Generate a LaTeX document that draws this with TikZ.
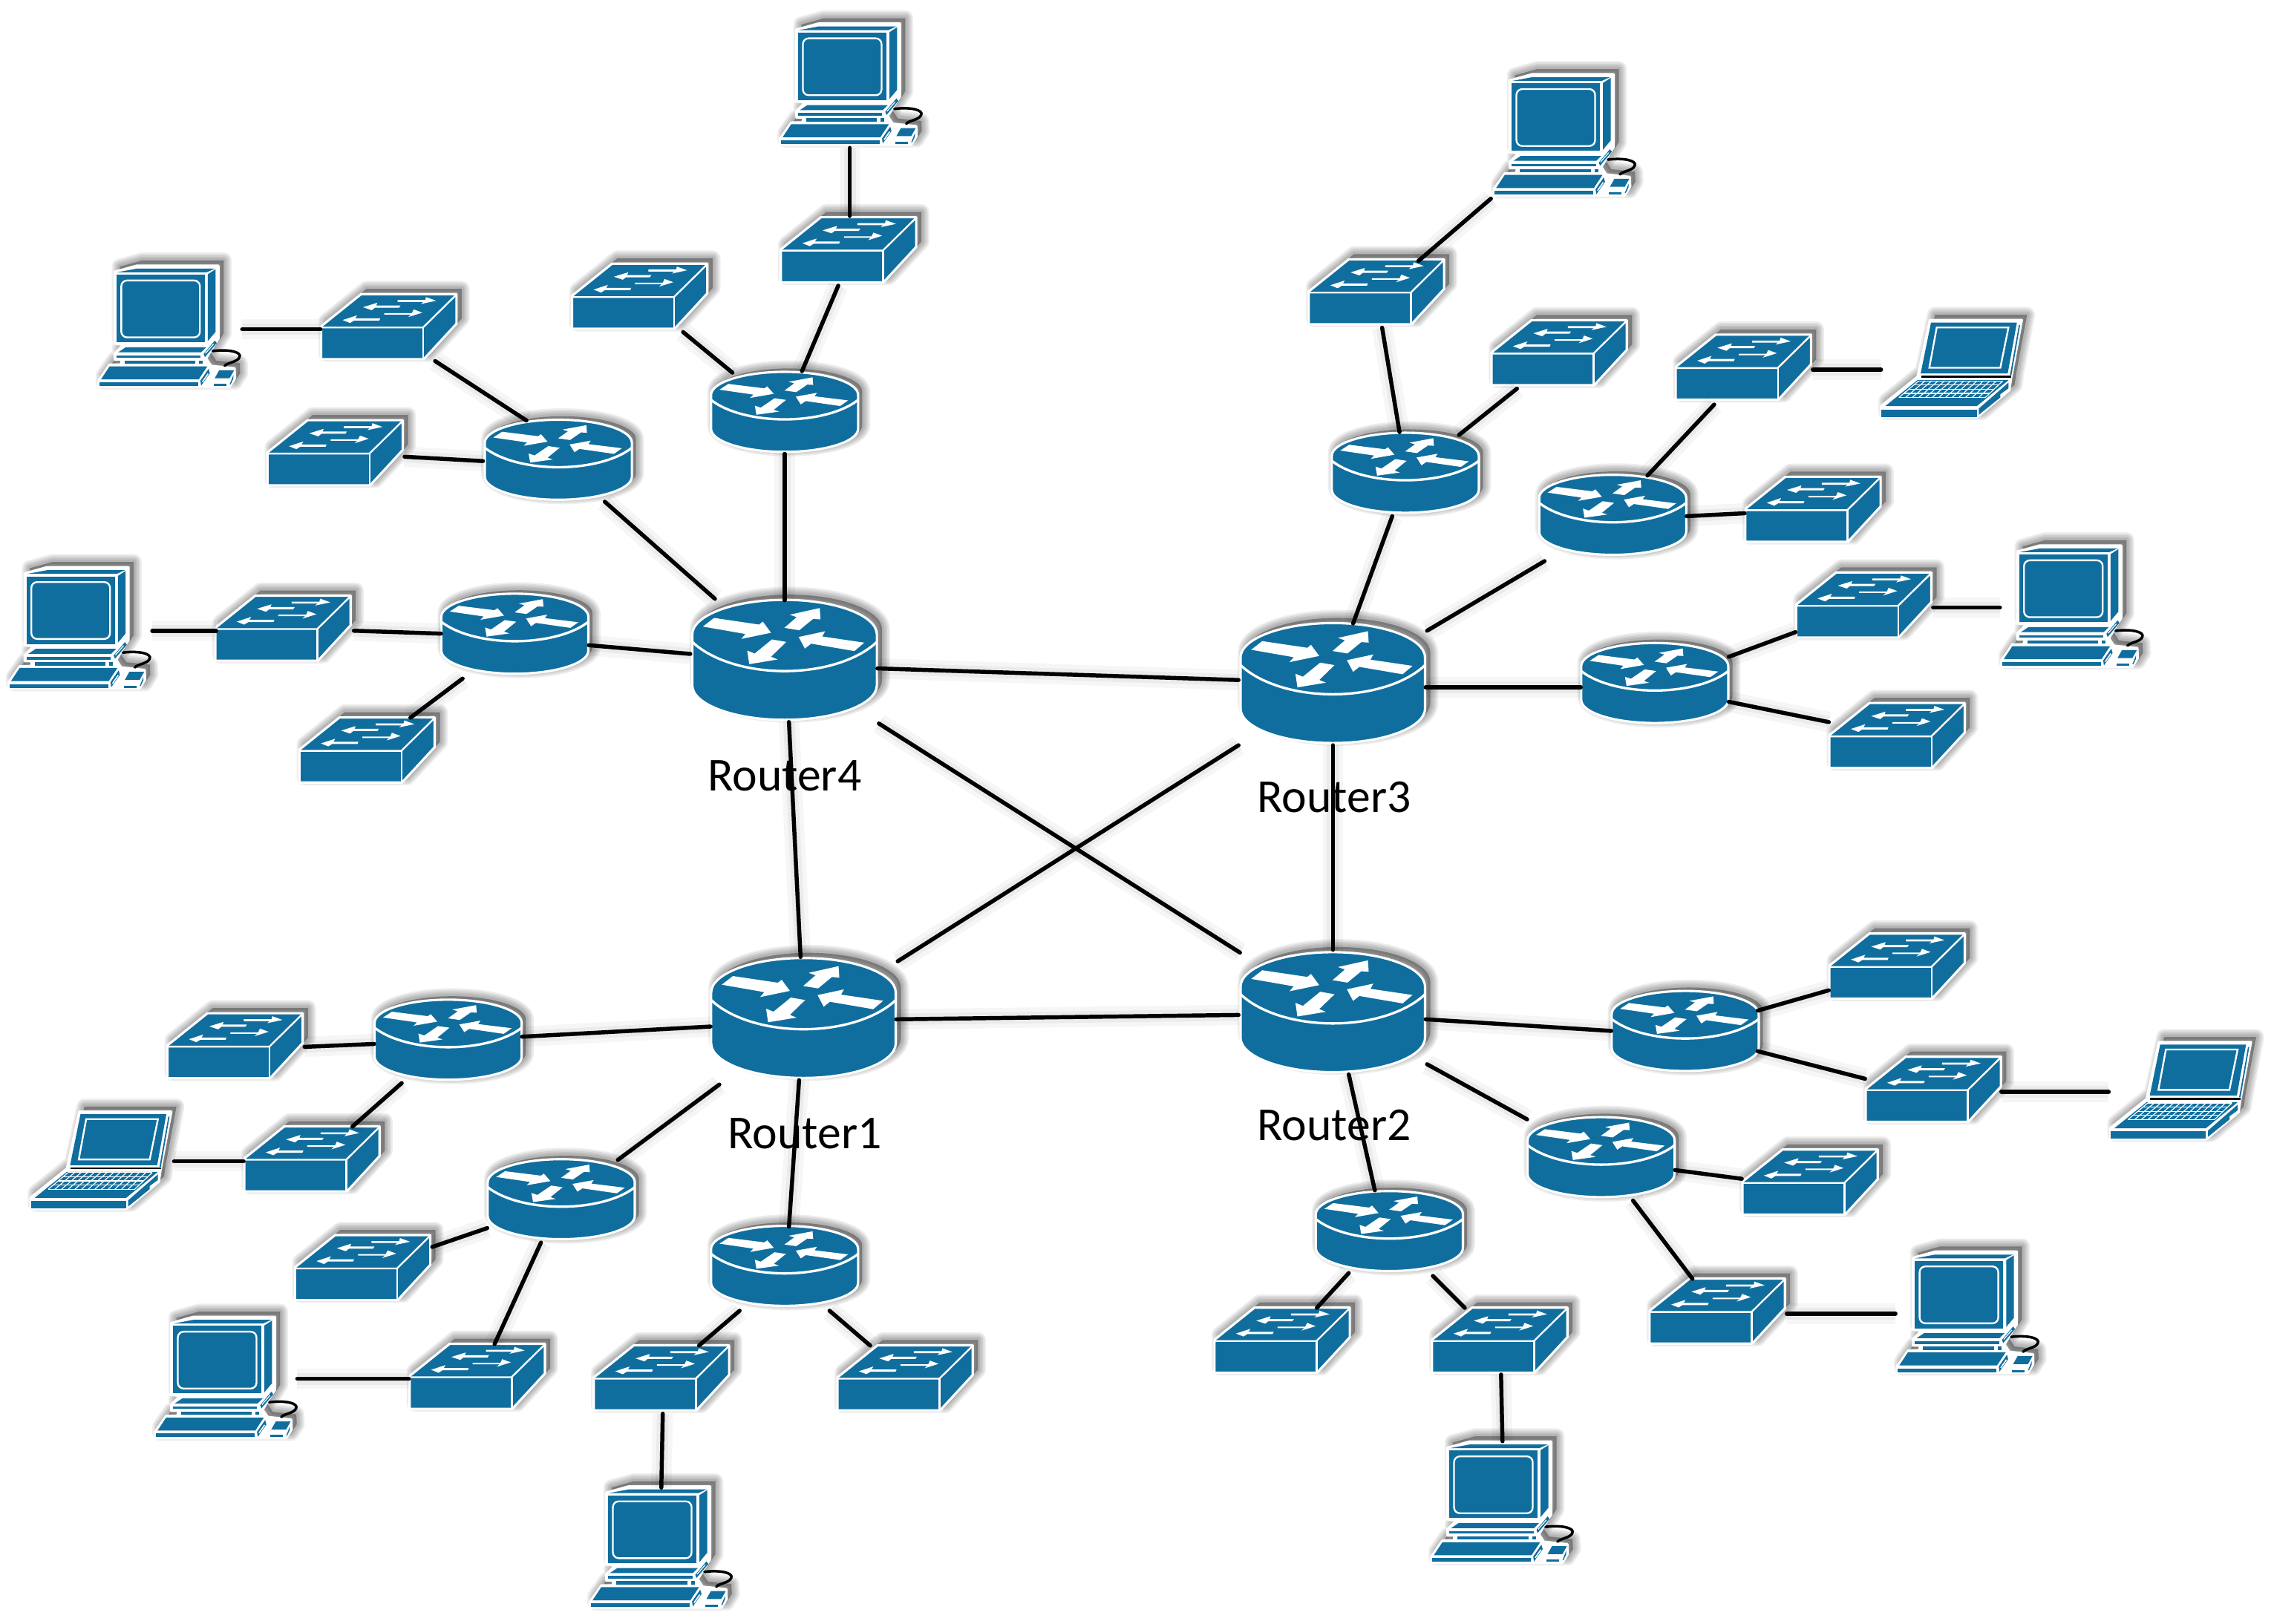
\documentclass[tikz,border=0pt]{standalone}
\usepackage{fontspec}
\setmainfont{Carlito}
\definecolor{ciscoblue}{HTML}{106E9E}
% local outlines, in the coordinates of a 3x crop of the reference
\newcommand\softshadow[1]{%
  \begin{scope}[shift={(21,-21)}]
    \foreach \w in {5.5pt,4.5pt,3.5pt,2.5pt,1.5pt}{\draw[line width=\w,draw=black,draw opacity=.065,line join=round] #1;}
    \fill[black,fill opacity=.32] #1;
  \end{scope}}
\newcommand\routersil{(-373,0) .. controls (-373,-77) and (-206,-140) .. (0,-140) .. controls (206,-140) and (373,-77) .. (373,0) -- (373,205) .. controls (373,282) and (206,345) .. (0,345) .. controls (-206,345) and (-373,282) .. (-373,205) -- cycle}
\newcommand\switchsil{(63,950) -- (225,820) -- (610,820) -- (610,940) -- (478,1083) -- (63,1083) -- cycle}
\newcommand\pcsil{(125,60) -- (215,35) -- (545,35) -- (545,330) -- (495,410) -- (515,440) -- (610,450) -- (612,490) -- (590,525) -- (60,525) -- (60,500) -- (105,435) -- (150,435) -- (155,415) -- (125,415) -- (125,390) -- (160,355) -- (125,350) -- cycle}
\newcommand\lapsil{(240,92) -- (612,92) -- (568,330) -- (562,375) -- (440,478) -- (430,485) -- (43,485) -- (43,440) -- (190,322) -- cycle}
\tikzset{
  iconedge/.style={draw=white,line width=.8pt,line join=round},
  iconfill/.style={fill=ciscoblue},
  wh/.style={fill=white},
  swbox/.style={minimum width=47pt,minimum height=23pt,inner sep=0pt},
  bigbox/.style={minimum width=64pt,minimum height=42pt,inner sep=0pt},
  smallbox/.style={minimum width=51pt,minimum height=28pt,inner sep=0pt},
  pcbox/.style={minimum width=49pt,minimum height=42pt,inner sep=0pt},
  lapbox/.style={minimum width=49pt,minimum height=34pt,inner sep=0pt},
  wire/.style={line width=1.4pt,line cap=round,draw=black,
    preaction={draw=black,draw opacity=.035,line width=7pt},
    preaction={draw=black,draw opacity=.045,line width=4pt}},
  rlabel/.style={font=\fontsize{16.3}{18}\selectfont,inner sep=0pt,text=black},
  pics/routericon/.style={code={
    \begin{scope}[scale=.1706,shift={(0,-102)}]
      \softshadow{\routersil}
      \filldraw[iconfill,iconedge] \routersil;
      \draw[draw=white,line width=.85pt] (-373,30) .. controls (-300,100) and (-160,148) .. (0,148) .. controls (160,148) and (300,100) .. (373,30);
      \fill[wh] (-330,-32) -- (-285,-67) -- (-103,-40) -- (-88,-52) -- (-55,-7) -- (-175,18) -- (-158,-2) -- cycle;
      \fill[wh] (-1,-27) -- (59,-17) -- (115,-63) -- (145,-61) -- (142,-107) -- (21,-80) -- (49,-70) -- cycle;
      \fill[wh] (322,33) -- (282,67) -- (107,37) -- (82,57) -- (57,10) -- (164,-13) -- (152,8) -- cycle;
      \fill[wh] (-51,20) -- (7,30) -- (-55,90) -- (-28,101) -- (-143,120) -- (-151,65) -- (-121,77) -- cycle;
    \end{scope}}},
  pics/switchicon/.style={code={
    \begin{scope}[scale=.1706,shift={(-336,-950)}]
      \softshadow{\switchsil}
      \filldraw[iconfill,iconedge] \switchsil;
      \draw[draw=white,line width=.6pt] (63,955) -- (475,955) -- (610,822);
      \draw[draw=white,line width=.6pt] (476,955) -- (476,1083);
      \begin{scope}[shift={(336,950)}]
        \fill[wh] (36,-106) -- (148,-106) -- (151,-118) -- (192,-103) -- (131,-90) -- (140,-98) -- (36,-98) -- cycle;
        \fill[wh] (-104,-77) -- (-46,-95) -- (-50,-84) -- (48,-84) -- (42,-75) -- (-55,-75) -- (-68,-65) -- cycle;
        \fill[wh] (-18,-53) -- (94,-53) -- (101,-68) -- (136,-55) -- (79,-37) -- (90,-47) -- (-18,-47) -- cycle;
        \fill[wh] (-186,-25) -- (-128,-44) -- (-135,-32) -- (-34,-32) -- (-38,-23) -- (-140,-23) -- (-156,-13) -- cycle;
      \end{scope}
    \end{scope}}},
  pics/pcicon/.style={code={
    \begin{scope}[scale=.1706,shift={(-336,-280)}]
      \softshadow{\pcsil}
      \filldraw[fill=white,iconedge] \pcsil;
      \fill[iconfill] (133,72) rectangle (490,345);
      \draw[draw=white,line width=.6pt,rounded corners=2pt] (152,95) rectangle (470,325);
      \fill[iconfill] (135,62) -- (215,47) -- (530,47) -- (497,62) -- cycle;
      \fill[iconfill] (502,70) -- (533,50) -- (533,303) -- (502,340) -- cycle;
      \fill[iconfill] (140,385) -- (170,365) -- (495,365) -- (475,385) -- cycle;
      \fill[iconfill] (132,397) rectangle (473,408);
      \fill[iconfill] (485,392) -- (530,338) -- (538,348) -- (490,405) -- cycle;
      \draw[draw=white,line width=.3pt] (492,390) -- (525,352);
      \fill[iconfill] (165,418) rectangle (452,432);
      \fill[iconfill] (467,418) rectangle (482,432);
      \fill[iconfill] (70,495) -- (105,442) -- (500,442) -- (465,495) -- cycle;
      \fill[iconfill] (63,507) rectangle (462,522);
      \fill[iconfill] (472,500) -- (505,452) -- (510,470) -- (475,520) -- cycle;
      \draw[draw=white,line width=.4pt] (480,505) -- (503,472);
      \fill[iconfill] (530,490) -- (548,458) -- (608,458) -- (590,490) -- cycle;
      \fill[iconfill] (525,513) rectangle (577,522);
      \fill[iconfill] (590,515) -- (605,478) -- (605,492) -- (594,515) -- cycle;
      \draw[black,line width=.9pt,line cap=round] (522,380) .. controls (590,372) and (640,385) .. (630,405) .. controls (622,425) and (585,425) .. (570,440);
    \end{scope}}},
  pics/laptopicon/.style={code={
    \begin{scope}[scale=.1706,shift={(-330,-287)}]
      \softshadow{\lapsil}
      \filldraw[fill=white,iconedge] \lapsil;
      \fill[iconfill] (245,102) -- (592,102) -- (555,308) -- (203,308) -- cycle;
      \fill[iconfill] (600,112) -- (605,112) -- (570,315) -- (564,315) -- cycle;
      \draw[draw=white,line width=.6pt] (268,122) -- (558,122) -- (525,285) -- (238,285) -- cycle;
      \draw[black,line width=.7pt] (205,321) -- (570,321);
      \fill[iconfill] (60,440) -- (190,335) -- (558,335) -- (430,440) -- cycle;
      \fill[iconfill] (45,453) rectangle (430,483);
      \fill[iconfill] (438,450) -- (558,345) -- (558,368) -- (525,392) -- (525,405) -- (438,475) -- cycle;
      \foreach \t in {0,.25,.5,.75,1}{\draw[draw=white,line width=.3pt] ({195-80*\t},{338+67*\t}) -- ({535-70*\t},{338+67*\t});}
      \foreach \i in {0,...,13}{\draw[draw=white,line width=.3pt] ({195+\i*26.15},338) -- ({115+\i*26.9},405);}
    \end{scope}}}
}
\newcommand\wire[4]{\draw[wire] ([shift={(#2)}]#1.center) -- ([shift={(#4)}]#3.center);}
\begin{document}
\begin{tikzpicture}[x=.5pt,y=-.5pt]
\useasboundingbox (0,0) rectangle (1568,1120);
\fill[white] (0,0) rectangle (1568,1120);
% big routers
\foreach \n/\x/\y in {r4/541/455,r3/919/471,r1/554/702,r2/919/698}{
  \node[bigbox] (\n) at (\x,\y) {};
  \pic at (\n) {routericon};
}
% small routers
\foreach \n/\x/\y in {a/541/284,b/385/317,c/355/437,d/969/326,e/1112/355,f/1141/471,g/1162/711,h/1104/798,i/958/849,j/541/873,k/387/827,l/309/717}{
  \node[smallbox] (\n) at (\x,\y) {};
  \pic[xscale=.797,yscale=.667] at (\n) {routericon};
}
% switches
\foreach \n/\x/\y in {s1/585/172,s2/441/204,s3/268/225,s4/231/312,s5/195/433,s6/253/517,s7/949/201,s8/1075/243,s9/1202/253,s10/1250/351,s11/1285/417,s12/1308/507,s13/1308/666,s14/1333/751,s15/1248/815,s16/1184/904,s17/1034/924,s18/884/924,s19/624/950,s20/456/950,s21/329/949,s22/250/874,s23/215/799,s24/162/721}{
  \node[swbox] (\n) at (\x,\y) {};
  \pic at (\n) {switchicon};
}
% computers
\foreach \n/\x/\y in {c1/585/58,c2/1077/93,c3/115/225,c4/53/433,c5/1427/418,c6/1355/905,c7/1034/1036,c8/454/1067,c9/154/950}{
  \node[pcbox] (\n) at (\x,\y) {};
  \pic at (\n) {pcicon};
}
% laptops
\foreach \n/\x/\y in {l1/1346/254,l2/1504/752,l3/70/800}{
  \node[lapbox] (\n) at (\x,\y) {};
  \pic at (\n) {laptopicon};
}
% core links
\wire{r4}{64,6}{r3}{-65,-2}
\wire{r4}{3,43}{r1}{-2,-42}
\wire{r4}{65,44}{r2}{-64,-41}
\wire{r1}{65,-39}{r3}{-65,43}
\wire{r3}{0,43}{r2}{0,-43}
\wire{r1}{64,1}{r2}{-65,2}
% router 4 side
\wire{r4}{0,-41}{a}{0,29}
\wire{r4}{-48,-42}{b}{32,29}
\wire{r4}{-65,-4}{c}{51,8}
\wire{a}{-36,-27}{s2}{30,25}
\wire{a}{12,-28}{s1}{-7,25}
\wire{s1}{1,-23}{c1}{1,44}
\wire{b}{-22,-27}{s3}{32,24}
\wire{b}{-52,1}{s4}{48,3}
\wire{s3}{-47,2}{c3}{52,2}
\wire{c}{-51,0}{s5}{49,2}
\wire{c}{-36,31}{s6}{30,-22}
\wire{s5}{-46,2}{c4}{52,2}
% router 3 side
\wire{r3}{14,-41}{d}{-9,30}
\wire{r3}{65,-36}{e}{-47,32}
\wire{r3}{64,3}{f}{-51,3}
\wire{d}{-4,-28}{s7}{4,25}
\wire{d}{37,-26}{s8}{-29,25}
\wire{s7}{29,-21}{c2}{-49,44}
\wire{e}{24,-27}{s9}{-20,26}
\wire{e}{51,1}{s10}{-47,3}
\wire{s9}{48,2}{l1}{-49,1}
\wire{f}{51,-18}{s11}{-47,19}
\wire{f}{51,13}{s12}{-47,-9}
\wire{s11}{48,2}{c5}{-48,1}
% router 2 side
\wire{r2}{64,5}{g}{-51,0}
\wire{r2}{65,36}{h}{-51,-26}
\wire{r2}{11,43}{i}{-10,-28}
\wire{g}{50,-14}{s13}{-47,17}
\wire{g}{50,14}{s14}{-47,-7}
\wire{s14}{47,2}{l2}{-50,1}
\wire{h}{51,9}{s15}{-47,-2}
\wire{h}{22,30}{s16}{-17,-22}
\wire{s16}{48,2}{c6}{-48,1}
\wire{i}{30,31}{s17}{-24,-22}
\wire{i}{-28,29}{s18}{24,-22}
\wire{s17}{1,24}{c7}{2,-42}
% router 1 side
\wire{r1}{-3,43}{j}{3,-27}
\wire{r1}{-58,46}{k}{39,-27}
\wire{r1}{-64,6}{l}{51,-2}
\wire{j}{31,31}{s19}{-24,-22}
\wire{j}{-31,31}{s20}{26,-22}
\wire{s20}{1,25}{c8}{2,-41}
\wire{k}{-51,20}{s22}{48,-14}
\wire{k}{-14,30}{s21}{12,-22}
\wire{s21}{-47,2}{c9}{51,1}
\wire{l}{-51,3}{s24}{48,1}
\wire{l}{-32,30}{s23}{28,-22}
\wire{s23}{-47,2}{l3}{50,1}
% labels
\node[rlabel] (t4) at (541,535) {Router4};
\node[rlabel] (t3) at (920,550) {Router3};
\node[rlabel] (t2) at (920,776) {Router2};
\node[rlabel] (t1) at (555,782) {Router1};
\end{tikzpicture}
\end{document}
